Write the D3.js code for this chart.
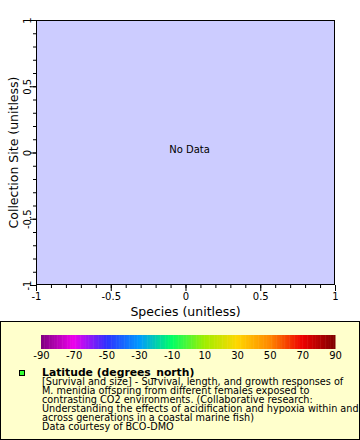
<!DOCTYPE html>
<html>
<head>
<meta charset="utf-8">
<script src="https://cdn.jsdelivr.net/npm/d3@7"></script>
<style>
  body { margin: 0; background: #fff; }
  svg { display: block; font-family: "DejaVu Sans", sans-serif; }
</style>
</head>
<body>
<div id="chart"></div>
<script>
// Axis domains and tick values
const xDomain = [-1, 1];
const yDomain = [-1, 1];
const majorTicks = [-1, -0.5, 0, 0.5, 1];
const minorTicks = d3.range(-10, 11).map(d => d / 10);

// Colour bar (latitude) ticks and palette stops
const barTicks = [-90, -70, -50, -30, -10, 10, 30, 50, 70, 90];
const paletteStops = [-90, -70, -50, -30, -10, 10, 30, 50, 70, 90];
const paletteColors = ["#7f007f", "#ee00ee", "#3030ff", "#0099ff", "#00ff66",
                       "#a0ee00", "#ffd700", "#ff8800", "#ee0000", "#7f0000"];

// Legend text
const legendTitle = "Latitude (degrees_north)";
const legendLines = [
  "[Survival and size] - Survival, length, and growth responses of",
  "M. menidia offspring from different females exposed to",
  "contrasting CO2 environments. (Collaborative research:",
  "Understanding the effects of acidification and hypoxia within and",
  "across generations in a coastal marine fish)",
  "Data courtesy of BCO-DMO"
];

const width = 360, height = 440;
const plot = { left: 36, top: 20, right: 335, bottom: 285 };
const plain = d => String(d);   // hyphen minus like the original

const svg = d3.select("#chart").append("svg")
  .attr("width", width)
  .attr("height", height);

const xScale = d3.scaleLinear().domain(xDomain).range([plot.left, plot.right]);
const yScale = d3.scaleLinear().domain(yDomain).range([plot.bottom, plot.top]);

// Plot background
svg.append("rect")
  .attr("x", plot.left).attr("y", plot.top)
  .attr("width", plot.right - plot.left).attr("height", plot.bottom - plot.top)
  .attr("fill", "#ccccff");

// No data message
svg.append("text")
  .attr("x", xScale(0.027)).attr("y", yScale(0))
  .attr("text-anchor", "middle")
  .attr("font-size", 10)
  .attr("fill", "#000")
  .text("No Data");

// Minor ticks
svg.append("g")
  .attr("transform", `translate(0, ${plot.bottom})`)
  .call(d3.axisBottom(xScale).tickValues(minorTicks).tickSize(3).tickFormat(""))
  .call(g => g.select(".domain").remove());
svg.append("g")
  .attr("transform", `translate(${plot.left}, 0)`)
  .call(d3.axisLeft(yScale).tickValues(minorTicks).tickSize(3).tickFormat(""))
  .call(g => g.select(".domain").remove());

// Major x axis
svg.append("g")
  .attr("transform", `translate(0, ${plot.bottom})`)
  .call(d3.axisBottom(xScale).tickValues(majorTicks).tickSize(6).tickPadding(2)
    .tickFormat(plain))
  .call(g => g.select(".domain").remove())
  .call(g => g.selectAll("text").attr("font-size", 10).attr("font-family", "DejaVu Sans"));

// Major y axis, labels rotated
svg.append("g")
  .attr("transform", `translate(${plot.left}, 0)`)
  .call(d3.axisLeft(yScale).tickValues(majorTicks).tickSize(6).tickFormat(plain))
  .call(g => g.select(".domain").remove())
  .call(g => g.selectAll("text")
    .attr("font-size", 10).attr("font-family", "DejaVu Sans")
    .attr("x", null).attr("dy", "0.35em")
    .attr("text-anchor", "middle")
    .attr("transform", "translate(-8.5, 0) rotate(-90)"));

// Plot frame
svg.append("rect")
  .attr("x", plot.left + 0.5).attr("y", plot.top + 0.5)
  .attr("width", plot.right - plot.left - 1).attr("height", plot.bottom - plot.top - 1)
  .attr("fill", "none").attr("stroke", "#000");

// Axis titles
svg.append("text")
  .attr("x", (plot.left + plot.right) / 2).attr("y", 316)
  .attr("text-anchor", "middle").attr("font-size", 12.5)
  .text("Species (unitless)");
svg.append("text")
  .attr("transform", `translate(18, ${(plot.top + plot.bottom) / 2}) rotate(-90)`)
  .attr("text-anchor", "middle").attr("font-size", 12.5)
  .text("Collection Site (unitless)");

// Legend box
svg.append("rect")
  .attr("x", 0.5).attr("y", 321.5)
  .attr("width", width - 1).attr("height", height - 322)
  .attr("fill", "#ffffcc").attr("stroke", "#000");

// Colour bar
const barX = d3.scaleLinear().domain([-90, 90]).range([41, 335]);
const palette = d3.scaleLinear().domain(paletteStops).range(paletteColors);
const barSteps = d3.range(-90, 90, 1);
svg.append("g").selectAll("rect")
  .data(barSteps)
  .join("rect")
  .attr("x", d => barX(d))
  .attr("y", 335)
  .attr("width", d => barX(d + 1) - barX(d) + 0.5)
  .attr("height", 14)
  .attr("fill", d => palette(d + 0.5));

svg.append("g")
  .attr("transform", "translate(0, 349)")
  .call(d3.axisBottom(barX).tickValues(barTicks).tickSize(0).tickPadding(3).tickFormat(plain))
  .call(g => g.select(".domain").remove())
  .call(g => g.selectAll("text").attr("font-size", 10).attr("font-family", "DejaVu Sans"));

// Legend marker
svg.append("rect")
  .attr("x", 19.5).attr("y", 370.5)
  .attr("width", 5).attr("height", 5)
  .attr("fill", "#33ff33").attr("stroke", "#000");

// Legend text
const legend = svg.append("text")
  .attr("x", 42).attr("y", 376)
  .attr("font-size", 9.7);
legend.append("tspan")
  .attr("x", 42).attr("font-weight", "bold").attr("font-size", 10.8)
  .text(legendTitle);
legendLines.forEach(line => {
  legend.append("tspan").attr("x", 42).attr("dy", 9).text(line);
});
</script>
</body>
</html>
